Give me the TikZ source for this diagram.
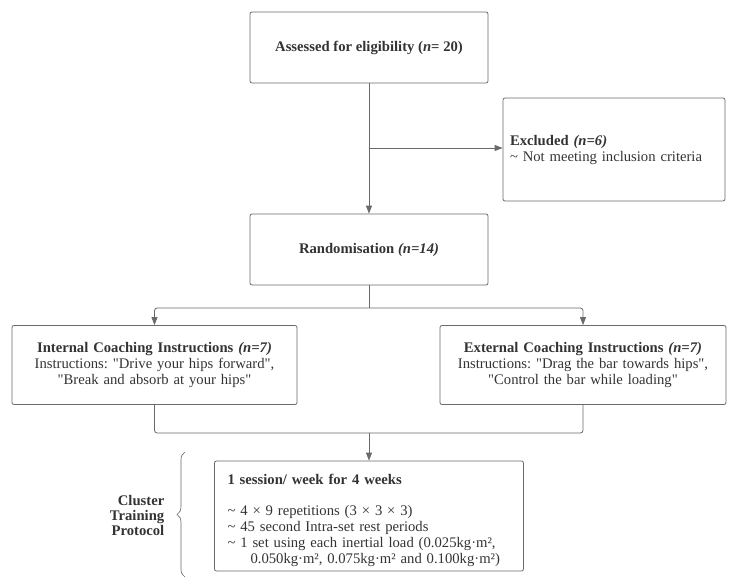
\documentclass[tikz,border=0pt]{standalone}
\usepackage{fontspec}
\setmainfont{Liberation Serif}
\usetikzlibrary{arrows.meta,decorations.pathreplacing,positioning}
\definecolor{lineGray}{HTML}{6A6A6A}
\definecolor{textGray}{HTML}{333333}
\frenchspacing

\begin{document}
\begin{tikzpicture}[x=0.75pt,y=-0.75pt,
    box/.style={draw=lineGray, line width=0.6pt, rounded corners=1.5pt, text=textGray,
        font=\fontsize{11}{12}\selectfont, inner sep=0pt},
    flow/.style={draw=lineGray, line width=0.6pt, -{Triangle[length=6pt,width=4.5pt]}},
    link/.style={draw=lineGray, line width=0.6pt, rounded corners=2pt}]
    \useasboundingbox (0,0) rectangle (736,586);

    % Draw boxes
    \node[box, minimum width=178.5pt, minimum height=53.25pt] (assess) at (369,47.5)
        {\textbf{Assessed for eligibility (\textit{n}= 20)}};
    \node[box, minimum width=166.5pt, minimum height=77.25pt, text width=156pt, align=left] (excl) at (614,149.5)
        {\textbf{Excluded \textit{(n=6)}}\\ \textasciitilde{} Not meeting inclusion criteria};
    \node[box, minimum width=178.5pt, minimum height=53.25pt] (rand) at (369,249.5)
        {\textbf{Randomisation \textit{(n=14)}}};
    \node[box, minimum width=213.75pt, minimum height=59.25pt, text width=205pt, align=center] (intern) at (154.5,365)
        {\textbf{Internal Coaching Instructions \textit{(n=7)}}\\
         Instructions: \textquotedbl Drive your hips forward\textquotedbl,\\
         \textquotedbl Break and absorb at your hips\textquotedbl};
    \node[box, minimum width=214.5pt, minimum height=59.25pt, text width=205pt, align=center] (extern) at (583,365)
        {\textbf{External Coaching Instructions \textit{(n=7)}}\\
         Instructions: \textquotedbl Drag the bar towards hips\textquotedbl,\\
         \textquotedbl Control the bar while loading\textquotedbl};
    \node[box, minimum width=231.75pt, minimum height=82.5pt, text width=212.25pt, align=left] (proto) at (369,516)
        {\rule{0pt}{14pt}\textbf{1 session/ week for 4 weeks}\\[11.25pt]
         \textasciitilde{} 4 × 9 repetitions (3 × 3 × 3)\\
         \textasciitilde{} 45 second Intra-set rest periods\\
         \textasciitilde{} 1 set using each inertial load (0.025kg·m²,\\
         \hspace*{17.25pt}\mbox{0.050kg·m², 0.075kg·m² and 0.100kg·m²)}};

    % Draw side label
    \node[text=textGray, font=\fontsize{11}{11.25}\selectfont\bfseries, align=right, anchor=east] (cluster) at (169,515)
        {Cluster\\ Training\\ Protocol};
    \draw[lineGray, line width=0.5pt, decorate, decoration={brace, amplitude=6pt}] (185,577) -- (185,452);

    % Draw connectors
    \draw[flow] (assess) -- (rand);
    \coordinate (split) at (369,148);
    \draw[flow] (split) -- (split -| excl.west);
    \coordinate (fork) at (369,308);
    \draw[link] (rand.south) -- (fork);
    \draw[flow, rounded corners=2pt] (fork) -| (intern.north);
    \draw[flow, rounded corners=2pt] (fork) -| (extern.north);
    \coordinate (join) at (369,433);
    \draw[link] (intern.south) |- (join);
    \draw[link] (extern.south) |- (join);
    \draw[flow] (join) -- (proto.north);
\end{tikzpicture}
\end{document}
